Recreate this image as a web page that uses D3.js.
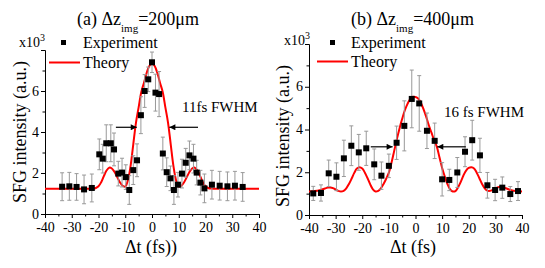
<!DOCTYPE html>
<html><head><meta charset="utf-8">
<script src="https://cdn.jsdelivr.net/npm/d3@7"></script>
<style>body{margin:0;background:#fff}svg{display:block}text{font-family:"Liberation Serif","Times New Roman",serif;fill:#000}</style>
</head><body>
<svg id="c" width="545" height="268"></svg>
<script>
// ---------- DATA ----------
const xTicks = [-40,-35,-30,-25,-20,-15,-10,-5,0,5,10,15,20,25,30,35,40];
const xLabels = [-40,-30,-20,-10,0,10,20,30,40];
const yTicks = [0,1,2,3,4,5,6,7];
const yLabels = [0,2,4,6];

// Panel (a)
const expA_t = [-33.6,-30.9,-28.2,-25.4,-22.5,-19.7,-18.4,-17.1,-15.4,-14.2,-12.6,-11.2,-9.8,-8.5,-7.0,-5.6,-4.15,-2.75,-1.4,0,1.3,2.65,4.05,5.5,6.9,8.2,9.7,11.2,12.6,14.0,15.5,16.7,18.1,19.6,22.4,25.3,28.2,31.0,33.9];
const expA_v = [1.33,1.35,1.32,1.2,1.27,2.91,2.7,3.45,3.45,3.15,1.97,2.02,1.8,1.17,2.14,2.62,4.82,6.0,6.57,7.4,5.92,5.85,2.95,2.04,1.74,1.17,1.43,1.97,2.5,2.86,2.7,2.02,1.53,1.25,1.43,1.38,1.35,1.38,1.32];
const expA_e = [0.68,0.68,0.65,0.7,0.68,0.75,0.7,0.9,0.9,0.8,0.6,0.7,0.6,0.7,0.7,0.8,0.9,0.8,0.6,0.5,0.9,1.1,0.8,0.7,0.6,0.7,0.6,0.7,0.7,0.7,0.7,0.6,0.6,0.7,0.7,0.7,0.7,0.7,0.7];
const thA_t = [-40,-35,-30,-25,-22,-21,-20,-19,-18,-17,-16,-15,-14,-13,-12,-11,-10,-9,-8,-7,-6,-5,-4,-3,-2,-1,0,1,2,3,4,5,6,7,8,9,10,11,12,13,14,15,16,17,18,19,20,21,22,25,30,35,40];
const thA_v = [1.23,1.23,1.23,1.23,1.24,1.27,1.35,1.55,1.85,2.12,2.26,2.22,2.05,1.8,1.55,1.38,1.34,1.65,2.35,3.4,4.45,5.2,5.95,6.4,6.88,7.22,7.35,7.22,6.88,6.4,5.95,5.2,4.45,3.4,2.35,1.65,1.34,1.38,1.55,1.8,2.05,2.22,2.26,2.12,1.85,1.55,1.35,1.27,1.24,1.23,1.23,1.23,1.23];

// Panel (b)
const expB_t = [-38.4,-35.5,-32.6,-29.7,-26.9,-24.1,-21.3,-18.5,-15.5,-12.8,-10.0,-7.1,-4.2,-1.4,1.4,4.3,7.2,10.0,12.7,15.7,18.6,21.3,24.2,27.0,29.9,32.6,35.6,38.5];
const expB_v = [1.01,1.03,1.95,1.79,2.65,3.24,2.93,3.12,2.37,1.84,2.3,3.38,4.17,5.43,5.22,3.94,3.47,1.67,1.64,1.99,2.96,3.5,2.79,1.39,1.17,1.28,0.98,1.12];
const expB_e = [0.33,0.38,0.62,0.65,0.85,0.93,0.84,0.8,0.72,0.64,0.55,0.78,1.17,1.35,1.3,0.83,0.83,0.78,0.5,0.7,0.7,0.93,0.8,0.6,0.5,0.5,0.35,0.44];
const thB_t = [-40,-38,-36,-34,-33,-32,-31,-30,-29,-28,-27,-26,-25,-24,-23,-22,-21,-20,-19,-18,-17,-16,-15,-14,-13,-12,-11,-10,-9,-8,-7,-6,-5,-4,-3,-2,-1,0,1,2,3,4,5,6,7,8,9,10,11,12,13,14,15,16,17,18,19,20,21,22,23,24,25,26,27,28,29,30,31,32,33,34,36,38,40];
const thB_v = [1.1,1.12,1.16,1.24,1.28,1.29,1.26,1.19,1.13,1.1,1.13,1.25,1.45,1.7,1.97,2.17,2.23,2.17,1.98,1.72,1.43,1.2,1.1,1.13,1.25,1.45,1.7,1.98,2.45,3.0,3.55,4.05,4.5,4.9,5.2,5.42,5.53,5.52,5.45,5.25,4.95,4.6,4.2,3.85,3.5,3.2,2.7,2.2,1.8,1.45,1.2,1.1,1.12,1.3,1.55,1.85,2.08,2.2,2.23,2.18,1.98,1.72,1.45,1.25,1.14,1.13,1.18,1.25,1.3,1.32,1.3,1.25,1.16,1.12,1.1];

// annotations (data units)
const arrowsA = [{x1:-13.5,x2:-5.7,y:4.23},{x1:17.2,x2:6.5,y:4.23}];
const arrowsB = [{x1:-16.8,x2:-8.6,y:3.19},{x1:18.9,x2:8.2,y:3.19}];

// ---------- DRAW ----------
const svg = d3.select("#c");
svg.append("defs").append("marker").attr("id","ah").attr("viewBox","0 0 10 10")
  .attr("refX",10).attr("refY",5).attr("markerWidth",7).attr("markerHeight",6)
  .attr("markerUnits","userSpaceOnUse").attr("orient","auto")
  .append("path").attr("d","M0,0L10,5L0,10z").attr("fill","#000");

function panel(cfg){
  const x = d3.scaleLinear().domain([-40,40]).range(cfg.xr);
  const y = d3.scaleLinear().domain([0,8]).range(cfg.yr);
  const g = svg.append("g");

  // x axis
  const xa = g.append("g").attr("transform",`translate(0,${cfg.yr[0]})`)
    .call(d3.axisBottom(x).tickValues(xTicks).tickSizeOuter(0).tickSize(4).tickPadding(4)
      .tickFormat(d=> xLabels.includes(d)? String(d): ""));
  xa.selectAll(".tick line").attr("y2", d=> xLabels.includes(d)?4:2.5);
  // y axis
  const ya = g.append("g").attr("transform",`translate(${cfg.xr[0]},0)`)
    .call(d3.axisLeft(y).tickValues(yTicks).tickSizeOuter(0).tickSize(4).tickPadding(2)
      .tickFormat(d=> yLabels.includes(d)? String(d): ""));
  ya.selectAll(".tick line").attr("x2", d=> yLabels.includes(d)?-4:-2.5);
  ya.selectAll(".tick text").attr("dy","0.3em");
  g.selectAll(".domain").attr("stroke","#000");
  g.selectAll(".tick line").attr("stroke","#000");
  g.selectAll(".tick text").style("font-family","Liberation Serif, serif").style("font-size","14px").attr("fill","#000");

  // theory
  const pts = cfg.tt.map((t,i)=>[t,cfg.tv[i]]);
  g.append("path").datum(pts).attr("fill","none").attr("stroke","#ff0000").attr("stroke-width",2)
    .attr("d", d3.line().x(d=>x(d[0])).y(d=>y(d[1])).curve(d3.curveCatmullRom));

  // experiment
  const ex = cfg.et.map((t,i)=>({t, v:cfg.ev[i], e:cfg.ee[i]}));
  const eb = g.append("g").attr("stroke","#999").attr("stroke-width",1);
  ex.forEach(d=>{
    eb.append("line").attr("x1",x(d.t)).attr("x2",x(d.t)).attr("y1",y(d.v-d.e)).attr("y2",y(d.v+d.e));
    eb.append("line").attr("x1",x(d.t)-2).attr("x2",x(d.t)+2).attr("y1",y(d.v-d.e)).attr("y2",y(d.v-d.e));
    eb.append("line").attr("x1",x(d.t)-2).attr("x2",x(d.t)+2).attr("y1",y(d.v+d.e)).attr("y2",y(d.v+d.e));
  });
  g.selectAll("rect.pt").data(ex).join("rect").attr("class","pt")
    .attr("x",d=>x(d.t)-3).attr("y",d=>y(d.v)-3).attr("width",6).attr("height",6).attr("fill","#000");

  // arrows
  cfg.arrows.forEach(a=>{
    g.append("line").attr("x1",x(a.x1)).attr("x2",x(a.x2)).attr("y1",y(a.y)).attr("y2",y(a.y))
      .attr("stroke","#000").attr("stroke-width",1.2).attr("marker-end","url(#ah)");
  });
  g.append("text").attr("x",cfg.fw[0]).attr("y",cfg.fw[1]).style("font-size","15px").text(cfg.fwText);

  // title
  const tt = g.append("text").attr("x",cfg.title[0]).attr("y",cfg.title[1]).style("font-size","18px");
  tt.append("tspan").text(cfg.tA);
  tt.append("tspan").attr("dy",7).style("font-size","11px").text("img");
  tt.append("tspan").attr("dy",-7).text(cfg.tB);

  // legend
  const lx = cfg.leg;
  const xt = g.append("text").attr("x",lx.mx).attr("y",lx.my).style("font-size","14px");
  xt.append("tspan").text("x10");
  xt.append("tspan").attr("dy",-6).style("font-size","10px").text("3");
  g.append("rect").attr("x",lx.sq-2.5).attr("y",lx.sy-2.5).attr("width",5).attr("height",5).attr("fill","#000");
  g.append("text").attr("x",lx.tx).attr("y",lx.sy+5).style("font-size","16px").text("Experiment");
  g.append("line").attr("x1",lx.l1).attr("x2",lx.l2).attr("y1",lx.ly).attr("y2",lx.ly).attr("stroke","#ff0000").attr("stroke-width",2);
  g.append("text").attr("x",lx.tx).attr("y",lx.ly+5).style("font-size","16px").text("Theory");

  // axis titles
  g.append("text").attr("x",cfg.xl[0]).attr("y",cfg.xl[1]).attr("text-anchor","middle").style("font-size","18px").text(cfg.xlText);
  g.append("text").attr("transform",`translate(${cfg.yl[0]},${cfg.yl[1]}) rotate(-90)`).attr("text-anchor","middle")
    .style("font-size","18px").text("SFG intensity (a.u.)");
}

panel({xr:[45,259], yr:[214,50], tt:thA_t, tv:thA_v, et:expA_t, ev:expA_v, ee:expA_e, arrows:arrowsA,
  fw:[182,112], fwText:"11fs FWHM", title:[77,25], tA:"(a) Δz", tB:"=200μm",
  leg:{mx:19,my:47,sq:63.5,sy:42.5,tx:83,l1:49,l2:80,ly:62.5},
  xl:[151,253], xlText:"Δt (fs))", yl:[26,132]});
panel({xr:[309,522], yr:[215,44], tt:thB_t, tv:thB_v, et:expB_t, ev:expB_v, ee:expB_e, arrows:arrowsB,
  fw:[444,117], fwText:"16 fs FWHM", title:[351,25], tA:"(b) Δz", tB:"=400μm",
  leg:{mx:284,my:45,sq:332.5,sy:42.5,tx:351,l1:317,l2:348,ly:61.5},
  xl:[413,253], xlText:"Δt (fs)", yl:[289,136]});
</script>
</body></html>
